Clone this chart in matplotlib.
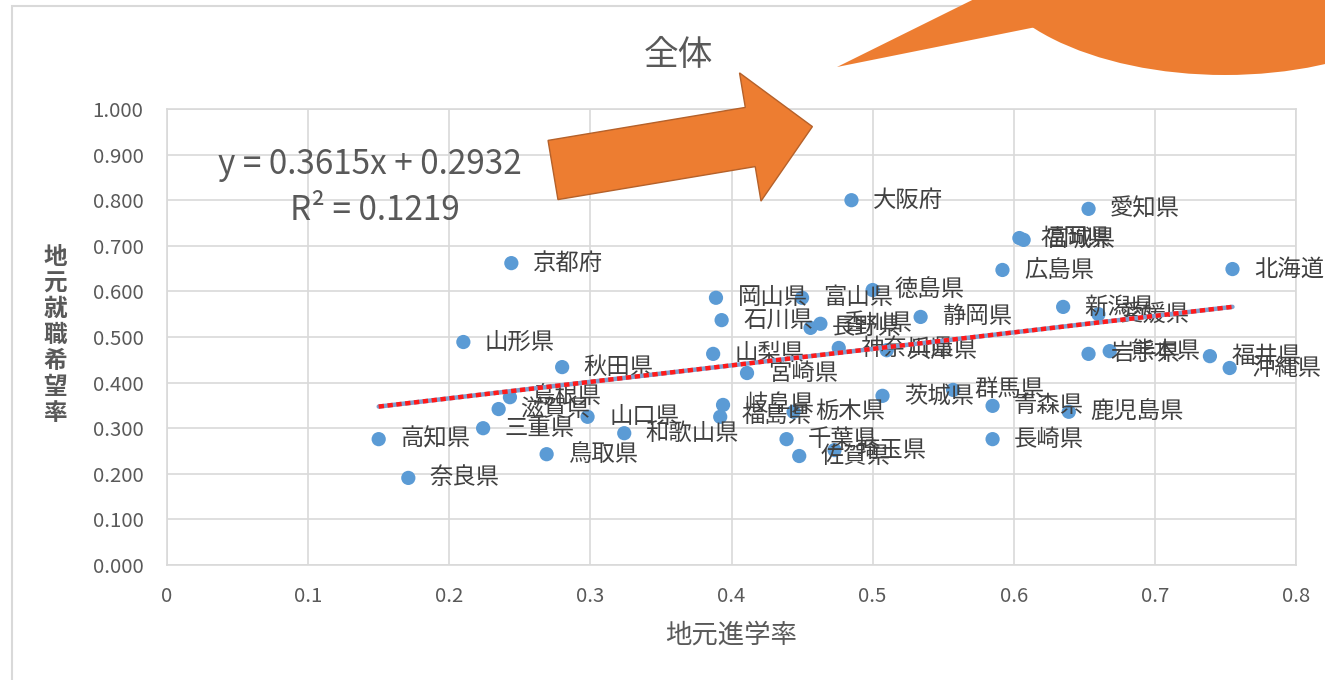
import matplotlib
matplotlib.use("Agg")
import matplotlib.pyplot as plt
from matplotlib.patches import Ellipse, Polygon, Rectangle
import numpy as np

plt.rcParams['font.family'] = ['Noto Sans CJK JP', 'DejaVu Sans']

# 地元進学率 (x) と 地元就職希望率 (y)
prefectures = [
    '北海道', '青森県', '岩手県', '宮城県', '秋田県', '山形県', '福島県', '茨城県',
    '栃木県', '群馬県', '埼玉県', '千葉県', '神奈川県', '新潟県', '富山県', '石川県',
    '福井県', '山梨県', '長野県', '岐阜県', '静岡県', '愛知県', '三重県', '滋賀県',
    '京都府', '大阪府', '兵庫県', '奈良県', '和歌山県', '鳥取県', '島根県', '岡山県',
    '広島県', '山口県', '徳島県', '香川県', '愛媛県', '高知県', '福岡県', '佐賀県',
    '長崎県', '熊本県', '宮崎県', '鹿児島県', '沖縄県',
]
shingaku = [
    0.755, 0.585, 0.653, 0.607, 0.280, 0.210, 0.392, 0.507,
    0.444, 0.557, 0.473, 0.439, 0.476, 0.635, 0.450, 0.393,
    0.739, 0.387, 0.456, 0.394, 0.534, 0.653, 0.224, 0.235,
    0.244, 0.485, 0.510, 0.171, 0.324, 0.269, 0.243, 0.389,
    0.592, 0.298, 0.500, 0.463, 0.660, 0.150, 0.604, 0.448,
    0.585, 0.668, 0.411, 0.639, 0.753,
]
shushoku = [
    0.649, 0.349, 0.463, 0.713, 0.434, 0.489, 0.325, 0.371,
    0.336, 0.384, 0.252, 0.276, 0.476, 0.566, 0.586, 0.537,
    0.458, 0.463, 0.520, 0.351, 0.544, 0.781, 0.300, 0.342,
    0.662, 0.800, 0.471, 0.191, 0.289, 0.243, 0.368, 0.586,
    0.647, 0.325, 0.603, 0.529, 0.550, 0.276, 0.717, 0.239,
    0.276, 0.469, 0.421, 0.336, 0.432,
]

# 線形近似
slope = 0.3615
intercept = 0.2932
r_squared = 0.1219

x_ticks = [0, 0.1, 0.2, 0.3, 0.4, 0.5, 0.6, 0.7, 0.8]
x_tick_labels = ['0', '0.1', '0.2', '0.3', '0.4', '0.5', '0.6', '0.7', '0.8']
y_ticks = [0.0, 0.1, 0.2, 0.3, 0.4, 0.5, 0.6, 0.7, 0.8, 0.9, 1.0]
y_tick_labels = ['%.3f' % v for v in y_ticks]

W, H = 1325, 680
fig = plt.figure(figsize=(W / 100, H / 100), dpi=100)


def fx(px):
    return px / W


def fy(py):
    return 1 - py / H


grid_c = '#d9d9d9'
text_c = '#595959'

# グラフエリアの枠
fig.patches.append(Rectangle((fx(12), fy(700)), fx(1360) - fx(12), fy(6) - fy(700),
                             transform=fig.transFigure, facecolor='none',
                             edgecolor=grid_c, lw=1.5, zorder=-5))

ax = fig.add_axes([fx(167), fy(565), fx(1296) - fx(167), fy(109) - fy(565)])
ax.set_zorder(1)
ax.set_xlim(0, 0.8)
ax.set_ylim(0, 1.0)
ax.set_xticks(x_ticks)
ax.set_xticklabels(x_tick_labels)
ax.set_yticks(y_ticks)
ax.set_yticklabels(y_tick_labels)
ax.tick_params(length=0, labelsize=14.7, colors=text_c)
ax.tick_params(axis='y', pad=17)
ax.tick_params(axis='x', pad=15)
ax.grid(True, color=grid_c, lw=1.2, zorder=0)
ax.set_axisbelow(True)
for s in ax.spines.values():
    s.set_color(grid_c)
    s.set_linewidth(1.2)
ax.patch.set_alpha(0)

ax.scatter(shingaku, shushoku, s=105, color='#5B9BD5', edgecolors='none', zorder=3)

for name, xv, yv in zip(prefectures, shingaku, shushoku):
    ax.annotate(name, (xv, yv), xytext=(15.5, 0), textcoords='offset points',
                va='center', ha='left', fontsize=16.8, color='#404040', zorder=4)

# 近似直線
xs = np.array([min(shingaku), max(shingaku)])
ys = slope * xs + intercept
ax.plot(xs, ys, color='#7f9fcf', lw=3.2, solid_capstyle='round', zorder=5)
ax.plot(xs, ys, color='#ff1a1a', lw=3.2, ls=(0, (1.2, 0.8)), zorder=6)

fig.text(fx(218), fy(165), 'y = 0.3615x + 0.2932', fontsize=24, color=text_c,
         va='center', ha='left', zorder=3)
fig.text(fx(290), fy(210), 'R² = 0.1219', fontsize=24, color=text_c,
         va='center', ha='left', zorder=3)

fig.text(fx(678), fy(55), '全体', fontsize=25, color=text_c, ha='center', va='center')
fig.text(fx(731), fy(635), '地元進学率', fontsize=19, color=text_c, ha='center', va='center')
fig.text(fx(55), fy(335), '\n'.join('地元就職希望率'), fontsize=17, fontweight='bold',
         color=text_c, ha='center', va='center', linespacing=1.1)

# 矢印
orange = '#ED7D31'
tail = np.array([553.0, 170.0])
ang = np.deg2rad(9.5)
u = np.array([np.cos(ang), -np.sin(ang)])
v = np.array([-np.sin(ang), -np.cos(ang)])
length, head_at, body_hw, head_hw = 263, 200, 30, 65
pts = [
    tail + body_hw * v,
    tail + head_at * u + body_hw * v,
    tail + head_at * u + head_hw * v,
    tail + length * u,
    tail + head_at * u - head_hw * v,
    tail + head_at * u - body_hw * v,
    tail - body_hw * v,
]
fig.patches.append(Polygon([(fx(p[0]), fy(p[1])) for p in pts], closed=True,
                           transform=fig.transFigure, facecolor=orange,
                           edgecolor='#b5612a', lw=1.0, zorder=10))

# 吹き出し
fig.patches.append(Ellipse((fx(1225), fy(-50)), 2 * 245 / W, 2 * 125 / H,
                           transform=fig.transFigure, facecolor=orange,
                           edgecolor='none', zorder=10))
fig.patches.append(Polygon([(fx(837), fy(67)), (fx(1046), fy(25)), (fx(1053), fy(-40))],
                           closed=True, transform=fig.transFigure, facecolor=orange,
                           edgecolor='none', zorder=10))

fig.savefig('out.png', dpi=100, facecolor='white')
